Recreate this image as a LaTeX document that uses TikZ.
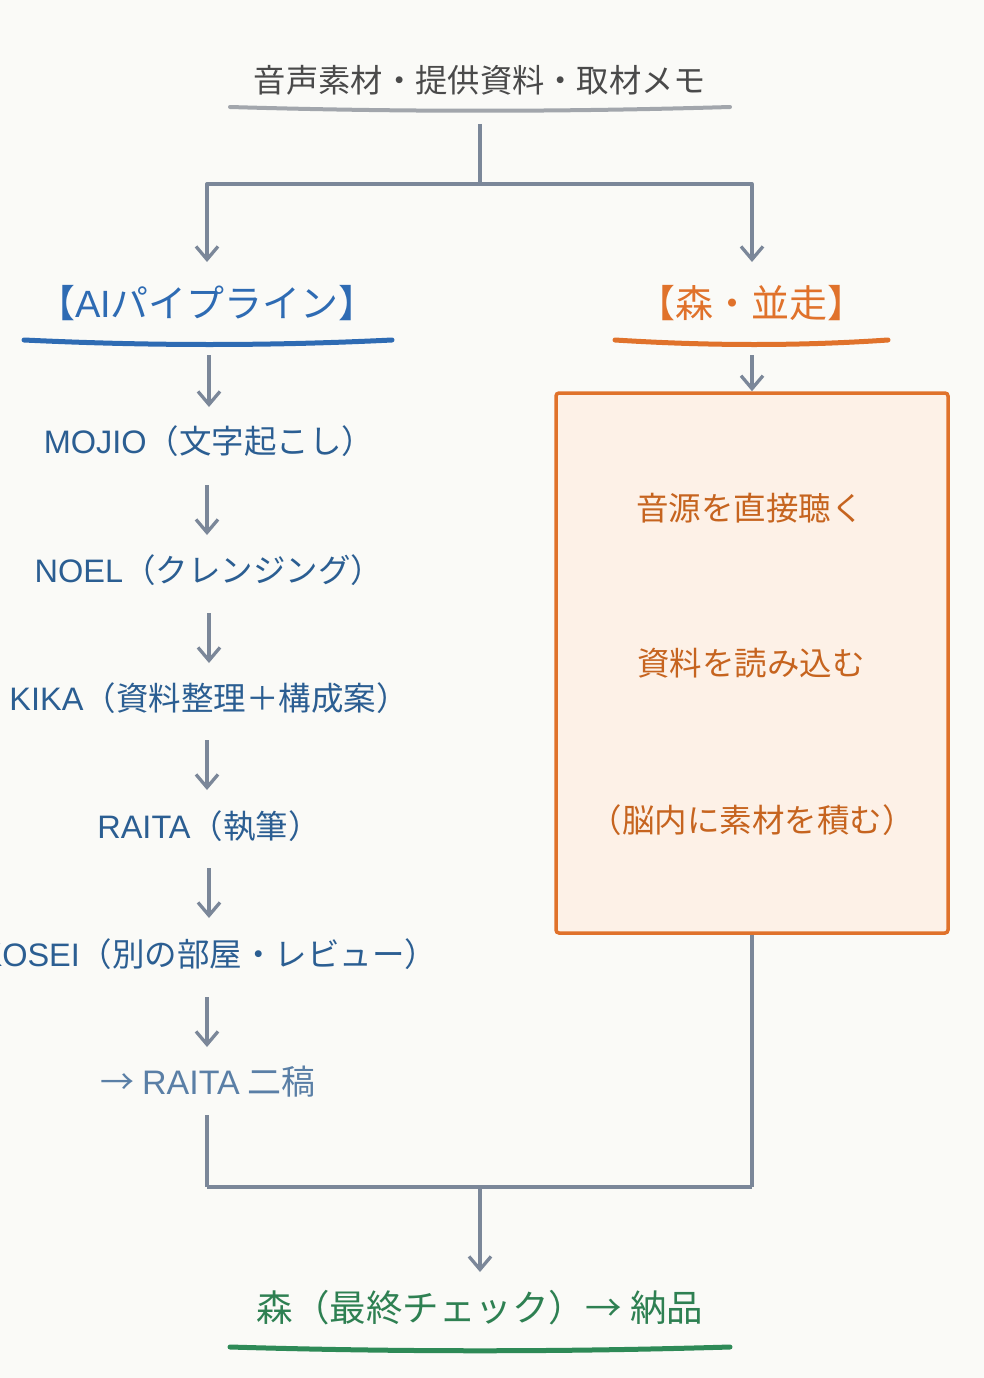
\documentclass[tikz,border=0pt]{standalone}
\usepackage{fontspec}
\setmainfont{Noto Sans CJK JP}
\newfontfamily\la{Liberation Sans}
\usetikzlibrary{arrows.meta,calc}
\definecolor{bg}{HTML}{FAFAF7}
\definecolor{cgray}{HTML}{7B8799}
\definecolor{ulgray}{HTML}{A2A6AC}
\definecolor{titlegray}{HTML}{4A4A4A}
\definecolor{hblue}{HTML}{2E6BB3}
\definecolor{tblue}{HTML}{2B5E92}
\definecolor{lblue}{HTML}{5A7FA6}
\definecolor{orng}{HTML}{E0722B}
\definecolor{torng}{HTML}{C6641F}
\definecolor{boxfill}{HTML}{FDF1E7}
\definecolor{grn}{HTML}{2E8052}
\definecolor{ulgrn}{HTML}{2E8A57}
\begin{document}
\begin{tikzpicture}[x=1pt,y=-1pt,
  conn/.style={draw=cgray,line width=3.3pt,line join=round},
  arr/.style={conn,-{Straight Barb[length=13pt,width=22pt,line width=3.3pt]}},
  txt/.style={inner sep=0pt,font=\fontsize{32.5}{38}\selectfont},
  head/.style={inner sep=0pt,font=\fontsize{38}{44}\selectfont},
  uline/.style={line width=5pt,line cap=round},
  stepbox/.style={draw=orng,line width=3.5pt,fill=boxfill,rounded corners=3pt,minimum width=392pt,minimum height=540pt,inner sep=0pt}
]
\fill[bg] (0,0) rectangle (984,1378);
\useasboundingbox (0,0) rectangle (984,1378);

% source
\node[txt,text=titlegray,font=\fontsize{32.3}{38}\selectfont] (src) at (480,80) {音声素材・提供資料・取材メモ};
\draw[uline,ulgray,line width=4pt] (230,107) .. controls (400,112) and (560,112) .. (730,107);
\coordinate (srcbot) at (480,124);
\coordinate (splitM) at (480,184);
\coordinate (aiTop) at (207,262);
\coordinate (moriTop) at (752,262);
\draw[conn] (srcbot) -- (splitM);
\draw[arr] (splitM) -| (aiTop);
\draw[arr] (splitM) -| (moriTop);

% AI pipeline header
\node[head,text=hblue] (ai) at (207,303) {【{\la AI}パイプライン】};
\draw[uline,hblue] (24,340) .. controls (150,346) and (270,346) .. (392,340);

% Mori header
\node[head,text=orng] (mori) at (751,303) {【森・並走】};
\draw[uline,orng] (615,340) .. controls (710,346) and (800,346) .. (888,340);

% left column
\node[txt,text=tblue] (mojio) at (209,441) {{\la MOJIO}（文字起こし）};
\node[txt,text=tblue] (noel) at (209,570) {{\la NOEL}（クレンジング）};
\node[txt,text=tblue] (kika) at (209,698) {{\la KIKA}（資料整理＋構成案）};
\node[txt,text=tblue] (raita) at (209,826) {{\la RAITA}（執筆）};
\node[txt,text=tblue] (kosei) at (209,954) {{\la KOSEI}（別の部屋・レビュー）};
\node[txt,text=lblue,font=\fontsize{34}{40}\selectfont] (raita2) at (208,1082) {→ {\la RAITA} 二稿};

\draw[arr] ($(ai)+(2,52)$) -- ($(mojio)+(0,-34)$);
\draw[arr] ($(mojio)+(-2,44)$) -- ($(noel)+(-2,-35)$);
\draw[arr] ($(noel)+(0,43)$) -- ($(kika)+(0,-35)$);
\draw[arr] ($(kika)+(-2,42)$) -- ($(raita)+(-2,-36)$);
\draw[arr] ($(raita)+(0,42)$) -- ($(kosei)+(0,-36)$);
\draw[arr] ($(kosei)+(-2,43)$) -- ($(raita2)+(-1,-35)$);

% right box
\node[stepbox] (box) at (752,663) {};
\node[txt,text=torng] (b1) at (750,508) {音源を直接聴く};
\node[txt,text=torng] (b2) at (751,663) {資料を読み込む};
\node[txt,text=torng] (b3) at (752,820) {（脳内に素材を積む）};
\draw[arr] ($(mori)+(1,52)$) -- (box.north);

% merge
\coordinate (joinL) at (207,1187);
\coordinate (joinR) at (752,1187);
\coordinate (joinM) at (480,1187);
\draw[conn] ($(raita2)+(-1,33)$) -- (joinL);
\draw[conn] (box.south) -- (joinR);
\draw[conn] (joinL) -- (joinR);

% final
\node[txt,text=grn,font=\fontsize{36.5}{42}\selectfont] (final) at (480,1308) {森（最終チェック）→ 納品};
\draw[arr] (joinM) -- ($(final)+(0,-36)$);
\draw[uline,ulgrn] (230,1347) .. controls (400,1352) and (560,1352) .. (730,1347);
\end{tikzpicture}
\end{document}
